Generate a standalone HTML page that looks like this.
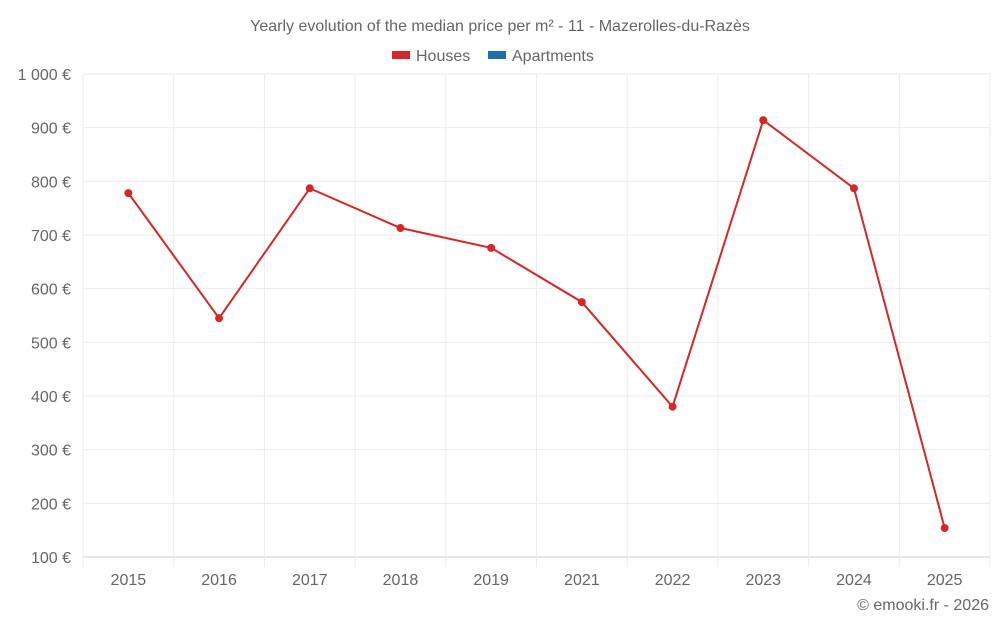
<!DOCTYPE html>
<html><head><meta charset="utf-8">
<style>
html,body{margin:0;padding:0;background:#fff;}
body{width:1000px;height:625px;overflow:hidden;font-family:"Liberation Sans",sans-serif;}
svg text{font-family:"Liberation Sans",sans-serif;fill:#666;}
</style></head>
<body>
<svg id="chart" width="1000" height="625" xmlns="http://www.w3.org/2000/svg">
<text x="500" y="31" text-anchor="middle" font-size="16">Yearly evolution of the median price per m² - 11 - Mazerolles-du-Razès</text>
<g>
<g><rect x="392" y="51" width="18" height="8" fill="#d62728"/><text x="416" y="61" font-size="16">Houses</text></g>
<g><rect x="488" y="51" width="18" height="8" fill="#1f6fa8"/><text x="512" y="61" font-size="16">Apartments</text></g>
</g>
<g id="grid"></g>
<g id="axes"></g>
<g id="series"></g>
<text x="989" y="610" text-anchor="end" font-size="16">© emooki.fr - 2026</text>
</svg>
<script>
const categories=["2015","2016","2017","2018","2019","2021","2022","2023","2024","2025"];
const housesValues=[778,545,787,713,676,575,380,914,787,154];
const yTicks=[100,200,300,400,500,600,700,800,900,1000];
const yTickLabels=["100 €","200 €","300 €","400 €","500 €","600 €","700 €","800 €","900 €","1 000 €"];
const NS="http://www.w3.org/2000/svg";
const L=83,R=990,T=74,B=557,yMin=100,yMax=1000;
const step=(R-L)/categories.length;
function xPos(i){return L+step*(i+0.5);}
function yPos(v){return B-(v-yMin)/(yMax-yMin)*(B-T);}
function mk(tag,attrs,parent){const e=document.createElementNS(NS,tag);for(const k in attrs)e.setAttribute(k,attrs[k]);parent.appendChild(e);return e;}
const grid=document.getElementById('grid'),axes=document.getElementById('axes'),series=document.getElementById('series');
yTicks.forEach((v,i)=>{
 const l=mk('line',{x1:L,x2:R,y1:yPos(v),y2:yPos(v),stroke:i===0?'#ccc':'#ebebeb','stroke-width':1},grid);
 
 
 const t=mk('text',{x:71,y:yPos(v)+6,'text-anchor':'end','font-size':16},axes);
 t.textContent=yTickLabels[i];
 
 
});
for(let i=0;i<=categories.length;i++){
 const x=L+step*i;
 const l=mk('line',{x1:x,x2:x,y1:T,y2:B+10,stroke:'#ebebeb','stroke-width':1},grid);
 
 
}
categories.forEach((c,i)=>{
 const t=mk('text',{x:xPos(i),y:585,'text-anchor':'middle','font-size':16},axes);
 t.textContent=c;
 
 
});
const pts=housesValues.map((v,i)=>xPos(i)+','+yPos(v)).join(' ');
const pl=mk('polyline',{points:pts,fill:'none',stroke:'#d62728','stroke-width':2},series);


housesValues.forEach((v,i)=>{
 const c=mk('circle',{cx:xPos(i),cy:yPos(v),r:4,fill:'#d62728'},series);
 
 
});
</script>
</body></html>
